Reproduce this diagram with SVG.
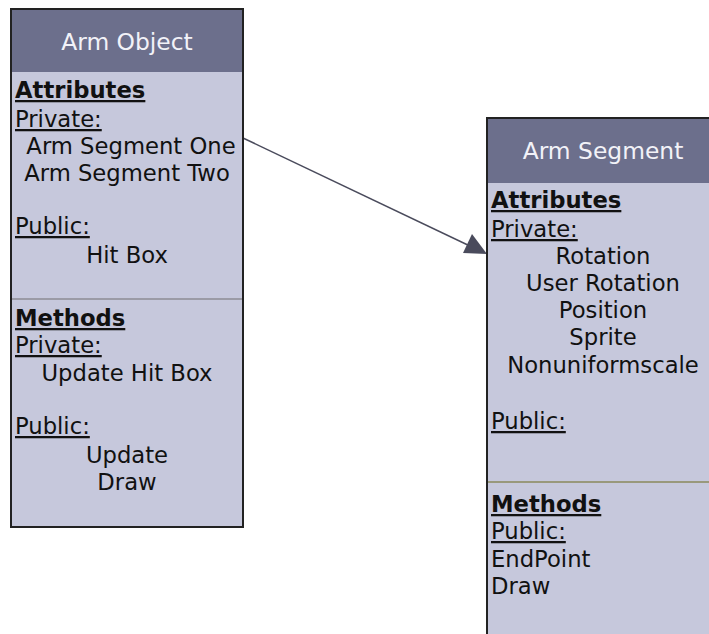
<svg xmlns="http://www.w3.org/2000/svg" width="709" height="634" viewBox="0 0 709 634">
  <defs>
    <style>
      .body { fill: #c6c8dc; stroke: #222; stroke-width: 2; }
      .head { fill: #6c6f8c; }
      .title { font-family: "DejaVu Sans", Verdana, sans-serif; font-size: 23.4px; fill: #f2f2f8; text-anchor: middle; }
      .t { font-family: "DejaVu Sans", Verdana, sans-serif; font-size: 22.7px; fill: #111; }
      .c { text-anchor: middle; }
      .sec { font-weight: bold; text-decoration: underline; }
      .u { text-decoration: underline; }
      .conn { stroke: #4a4b5c; stroke-width: 1.5; fill: none; }
    </style>
  </defs>

  <g id="connectors">
    <line class="conn" x1="243" y1="138" x2="472" y2="247"/>
    <path d="M487,254 L463,253 L472,234 z" fill="#4a4b5c"/>
  </g>

  <g id="arm-object">
    <rect class="body" x="11" y="9" width="232" height="518"/>
    <rect class="head" x="12" y="10" width="230" height="62"/>
    <line x1="12" y1="299" x2="242" y2="299" stroke="#8c8c94" stroke-width="1.5"/>
    <text class="title" x="127" y="50">Arm Object</text>
    <text class="t sec" x="15" y="98">Attributes</text>
    <text class="t u" x="15" y="127">Private:</text>
    <text class="t c" x="131" y="154">Arm Segment One</text>
    <text class="t c" x="127" y="181">Arm Segment Two</text>
    <text class="t u" x="15" y="234">Public:</text>
    <text class="t c" x="127" y="263">Hit Box</text>
    <text class="t sec" x="15" y="326">Methods</text>
    <text class="t u" x="15" y="353">Private:</text>
    <text class="t c" x="127" y="381">Update Hit Box</text>
    <text class="t u" x="15" y="434">Public:</text>
    <text class="t c" x="127" y="463">Update</text>
    <text class="t c" x="127" y="490">Draw</text>
  </g>

  <g id="arm-segment">
    <rect class="body" x="487" y="118" width="232" height="530"/>
    <rect class="head" x="488" y="119" width="230" height="64"/>
    <line x1="488" y1="482" x2="709" y2="482" stroke="#8a8a5c" stroke-width="1.5"/>
    <text class="title" x="603" y="159">Arm Segment</text>
    <text class="t sec" x="491" y="208">Attributes</text>
    <text class="t u" x="491" y="237">Private:</text>
    <text class="t c" x="603" y="264">Rotation</text>
    <text class="t c" x="603" y="291">User Rotation</text>
    <text class="t c" x="603" y="318">Position</text>
    <text class="t c" x="603" y="345">Sprite</text>
    <text class="t c" x="603" y="373">Nonuniformscale</text>
    <text class="t u" x="491" y="429">Public:</text>
    <text class="t sec" x="491" y="512">Methods</text>
    <text class="t u" x="491" y="539">Public:</text>
    <text class="t" x="491" y="567">EndPoint</text>
    <text class="t" x="491" y="594">Draw</text>
  </g>
</svg>
